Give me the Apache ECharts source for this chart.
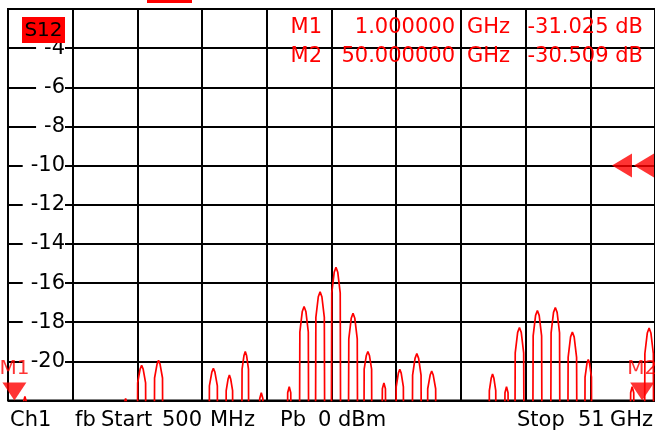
<!DOCTYPE html>
<html><head><meta charset="utf-8">
<script src="https://cdn.jsdelivr.net/npm/echarts@6/dist/echarts.min.js"></script>
<style>html,body{margin:0;padding:0;background:#fff}#c{width:655px;height:432px}</style>
</head><body><div id="c"></div>
<script>
// ---- data ----
const startGHz = 0.5, stopGHz = 51;
const yMin = -22, yMax = -2, yStep = 2;
const xDivisions = 10;
const refLevelDb = -10;
const traceName = 'S12';
const markerNames = ['M1', 'M2'];
const markerGHz = [1.0, 50.0];
const markerDb = [-31.025, -30.509];
const footerLeft = ['Ch1', 'fb', 'Start', '500', 'MHz', 'Pb', '0', 'dBm'];
const footerRight = ['Stop', '51', 'GHz'];
// trace [GHz, dB]
const trace = [
  [0.5,-33],[1.0,-31.0],
  [1.60,-30],[1.70,-22.1],[1.82,-21.8],[1.94,-22.1],[2.04,-30],
  [5.0,-32],
  [9.50,-30],[9.60,-22.1],[9.68,-21.9],[9.76,-22.1],[9.86,-30],
  [10.57,-30],[10.62,-21.1],[10.81,-20.4],[10.93,-20.2],[11.05,-20.4],[11.24,-21.1],[11.29,-30],
  [11.89,-30],[11.94,-20.85],[12.13,-20.15],[12.25,-19.95],[12.37,-20.15],[12.56,-20.85],[12.61,-30],
  [14.4,-32],
  [16.17,-30],[16.22,-21.25],[16.41,-20.55],[16.53,-20.35],[16.65,-20.55],[16.84,-21.25],[16.89,-30],
  [17.48,-30],[17.53,-21.5],[17.68,-20.9],[17.78,-20.7],[17.88,-20.9],[18.03,-21.5],[18.08,-30],
  [18.72,-30],[18.77,-20.4],[18.92,-19.7],[19.02,-19.5],[19.12,-19.7],[19.27,-20.4],[19.32,-30],
  [20.05,-30],[20.15,-21.9],[20.27,-21.6],[20.39,-21.9],[20.49,-30],
  [22.23,-30],[22.33,-21.6],[22.45,-21.3],[22.57,-21.6],[22.67,-30],
  [23.22,-30],[23.28,-18.5],[23.47,-17.45],[23.61,-17.2],[23.75,-17.45],[23.94,-18.5],[24.00,-30],
  [24.47,-30],[24.53,-17.75],[24.72,-16.7],[24.86,-16.45],[25.00,-16.7],[25.19,-17.75],[25.25,-30],
  [25.71,-30],[25.77,-16.5],[25.96,-15.45],[26.10,-15.2],[26.24,-15.45],[26.43,-16.5],[26.49,-30],
  [27.04,-30],[27.10,-18.85],[27.29,-17.8],[27.43,-17.55],[27.57,-17.8],[27.76,-18.85],[27.82,-30],
  [28.25,-30],[28.30,-20.4],[28.47,-19.7],[28.59,-19.5],[28.71,-19.7],[28.88,-20.4],[28.93,-30],
  [29.62,-30],[29.72,-21.4],[29.84,-21.1],[29.96,-21.4],[30.06,-30],
  [30.75,-30],[30.80,-21.3],[30.97,-20.6],[31.08,-20.4],[31.19,-20.6],[31.36,-21.3],[31.41,-30],
  [32.02,-30],[32.08,-20.7],[32.27,-19.85],[32.41,-19.6],[32.55,-19.85],[32.74,-20.7],[32.80,-30],
  [33.21,-30],[33.26,-21.4],[33.45,-20.7],[33.57,-20.5],[33.69,-20.7],[33.88,-21.4],[33.93,-30],
  [36.0,-32],
  [38.02,-30],[38.07,-21.5],[38.22,-20.85],[38.32,-20.65],[38.42,-20.85],[38.57,-21.5],[38.62,-30],
  [39.19,-30],[39.29,-21.6],[39.41,-21.3],[39.53,-21.6],[39.63,-30],
  [40.03,-30],[40.09,-19.57],[40.28,-18.52],[40.42,-18.27],[40.56,-18.52],[40.75,-19.57],[40.81,-30],
  [41.43,-30],[41.49,-18.7],[41.68,-17.65],[41.82,-17.4],[41.96,-17.65],[42.15,-18.7],[42.21,-30],
  [42.83,-30],[42.89,-18.55],[43.08,-17.5],[43.22,-17.25],[43.36,-17.5],[43.55,-18.55],[43.61,-30],
  [44.16,-30],[44.22,-19.8],[44.41,-18.75],[44.55,-18.5],[44.69,-18.75],[44.88,-19.8],[44.94,-30],
  [45.49,-30],[45.54,-20.8],[45.69,-20.1],[45.79,-19.9],[45.89,-20.1],[46.04,-20.8],[46.09,-30],
  [47.5,-32],
  [49.00,-30],[49.10,-21.6],[49.22,-21.3],[49.34,-21.6],[49.44,-30],
  [50.0,-30.5],
  [50.15,-30],[50.21,-19.6],[50.40,-18.55],[50.54,-18.3],[50.68,-18.55],[50.87,-19.6],[50.93,-30],[51.0,-31]
];

// ---- chart ----
const FONT = 'DejaVu Sans';
const FS = 21;
const RED = '#ff0000';
const chart = echarts.init(document.getElementById('c'));

const markerSeries = markerNames.map((n, i) => ({
  type: 'scatter', xAxisIndex: 0, yAxisIndex: 0, clip: false, z: 5,
  symbol: 'triangle', symbolRotate: 180, symbolSize: [24, 18], symbolOffset: [0, -9],
  itemStyle: { color: RED },
  label: { show: true, formatter: n, position: 'top', distance: 4, color: RED,
           fontFamily: FONT, fontSize: 20 },
  data: [[markerGHz[i], Math.max(markerDb[i], yMin)]]
}));

const readout = [];
markerNames.forEach((n, i) => {
  const y = 27.5 + i * 29;
  const st = { fill: RED, fontFamily: FONT, fontSize: FS, verticalAlign: 'middle' };
  readout.push({ type: 'text', style: Object.assign({ text: n, x: 322, y, align: 'right' }, st) });
  readout.push({ type: 'text', style: Object.assign({ text: markerGHz[i].toFixed(6), x: 455, y, align: 'right' }, st) });
  readout.push({ type: 'text', style: Object.assign({ text: 'GHz', x: 467, y, align: 'left' }, st) });
  readout.push({ type: 'text', style: Object.assign({ text: markerDb[i].toFixed(3) + ' dB', x: 643, y, align: 'right' }, st) });
});
const footXLeft = [10, 75, 101, 162, 210, 280, 318, 338];
const footXRight = [517, 578, 610];
const footer = [];
footerLeft.forEach((t, i) => footer.push({ type: 'text', style: { text: t, x: footXLeft[i], y: 421, fill: '#000', fontFamily: FONT, fontSize: FS, verticalAlign: 'middle', align: 'left' } }));
footerRight.forEach((t, i) => footer.push({ type: 'text', style: { text: t, x: footXRight[i], y: 421, fill: '#000', fontFamily: FONT, fontSize: FS, verticalAlign: 'middle', align: 'left' } }));

chart.setOption({
  animation: false,
  backgroundColor: '#fff',
  grid: { left: 8, top: 9, width: 649, height: 391.5, show: true, borderColor: '#000', borderWidth: 2, backgroundColor: '#fff' },
  xAxis: [
    { type: 'value', min: startGHz, max: stopGHz, show: true,
      axisLine: { show: false }, axisTick: { show: false }, axisLabel: { show: false }, splitLine: { show: false } },
    { type: 'value', min: 0, max: xDivisions, interval: 1, show: true,
      axisLine: { show: false }, axisTick: { show: false }, axisLabel: { show: false },
      splitLine: { show: true, lineStyle: { color: '#000', width: 2 } } }
  ],
  yAxis: {
    type: 'value', min: yMin, max: yMax, interval: yStep,
    axisLine: { show: false }, axisTick: { show: false },
    splitLine: { show: true, lineStyle: { color: '#000', width: 2 } },
    axisLabel: { show: true, inside: true, margin: 57, align: 'right', verticalAlign: 'middle',
                 showMinLabel: false, showMaxLabel: false,
                 color: '#000', fontFamily: FONT, fontSize: FS,
                 backgroundColor: '#fff', padding: [0, 0, 0, 8] }
  },
  series: [
    { name: traceName, type: 'line', xAxisIndex: 0, yAxisIndex: 0, data: trace, showSymbol: false, symbol: 'none',
      clip: true, z: 3, lineStyle: { color: RED, width: 1.7 } },
    ...markerSeries,
    { type: 'scatter', xAxisIndex: 0, yAxisIndex: 0, clip: false, z: 4, symbol: 'triangle', symbolRotate: 90,
      symbolSize: [24, 20], itemStyle: { color: RED },
      data: [
        { value: [stopGHz, refLevelDb], symbolOffset: [-33, 0] },
        { value: [stopGHz, refLevelDb], symbolOffset: [-11, 0] }
      ] }
  ],
  graphic: [
    { type: 'rect', shape: { x: 147, y: 0, width: 45, height: 3 }, style: { fill: RED }, z: 10 },
    { type: 'rect', shape: { x: 22, y: 17, width: 43, height: 26 }, style: { fill: RED }, z: 10 },
    { type: 'text', z: 11, style: { text: traceName, x: 43.5, y: 30.5, align: 'center', verticalAlign: 'middle', fill: '#000', fontFamily: FONT, fontSize: 20 } },
    ...readout.map(r => Object.assign({ z: 10 }, r)),
    ...footer
  ]
});
</script></body></html>
